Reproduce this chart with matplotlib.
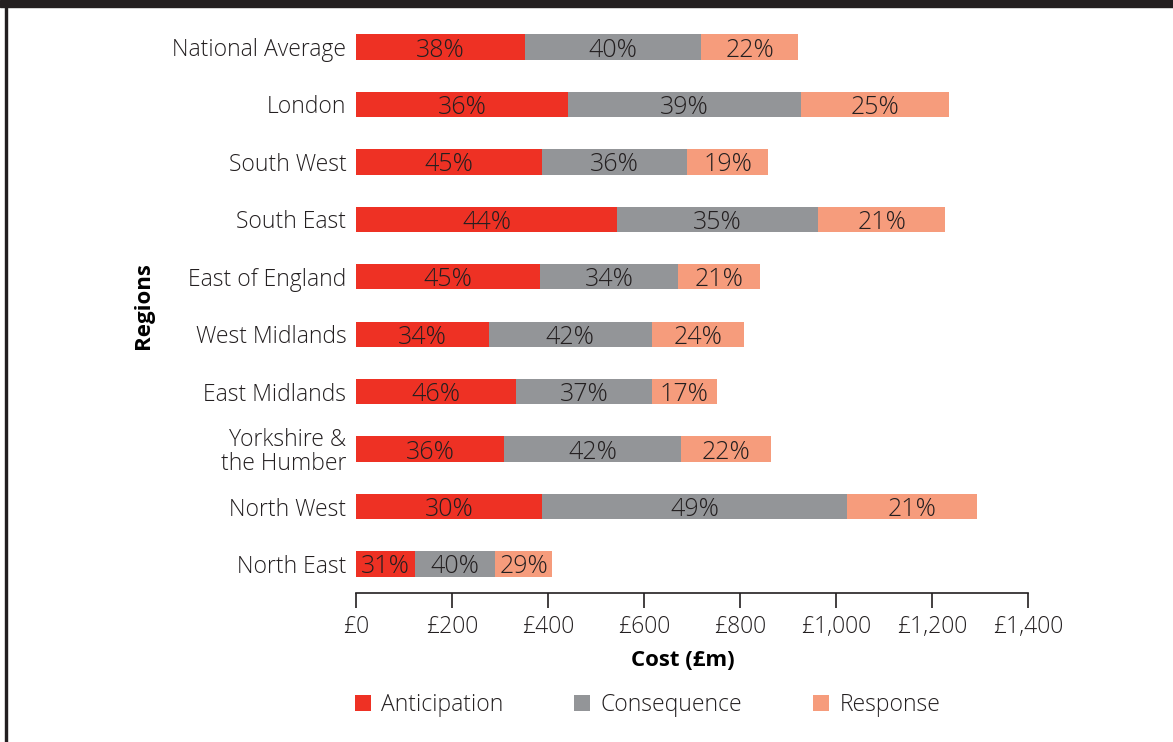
import matplotlib
matplotlib.use('Agg')
import matplotlib.pyplot as plt
from matplotlib.patches import Rectangle
import numpy as np

regions = ["National Average", "London", "South West", "South East", "East of England",
           "West Midlands", "East Midlands", "Yorkshire &\nthe Humber", "North West", "North East"]
anticipation = [352, 441, 388, 544, 383, 277, 333, 308, 388, 123]
consequence = [367, 486, 302, 419, 288, 339, 283, 369, 635, 167]
response = [202, 308, 168, 264, 171, 192, 136, 188, 271, 118]
pct_anticipation = [38, 36, 45, 44, 45, 34, 46, 36, 30, 31]
pct_consequence = [40, 39, 36, 35, 34, 42, 37, 42, 49, 40]
pct_response = [22, 25, 19, 21, 21, 24, 17, 22, 21, 29]
xticks = [0, 200, 400, 600, 800, 1000, 1200, 1400]

RED = "#ee3124"
GREY = "#939598"
PINK = "#f69c7c"
INK = "#231f20"

plt.rcParams['font.family'] = ['Open Sans', 'DejaVu Sans']
plt.rcParams['font.weight'] = 'light'
plt.rcParams['font.size'] = 16.5
plt.rcParams['text.color'] = INK

fig = plt.figure(figsize=(11.73, 7.42), dpi=100)
ax = fig.add_axes([356/1173, 1 - 593/742, 672/1173, (593 - 18.3)/742])

y = np.arange(len(regions))[::-1]
h = 0.44
left = np.zeros(len(regions))
for vals, pcts, col, name in [(anticipation, pct_anticipation, RED, "Anticipation"),
                              (consequence, pct_consequence, GREY, "Consequence"),
                              (response, pct_response, PINK, "Response")]:
    bars = ax.barh(y, vals, left=left, height=h, color=col, label=name)
    for b, p in zip(bars, pcts):
        ax.text(b.get_x() + b.get_width()/2, b.get_y() + b.get_height()/2, f"{p}%",
                ha='center', va='center_baseline', fontsize=18, color=INK)
    left = left + np.array(vals)

ax.set_xlim(0, 1400)
ax.set_ylim(-0.505, 9.5)
ax.set_yticks(y)
ax.set_yticklabels(regions, linespacing=1.0)
ax.set_xticks(xticks)
ax.set_xticklabels([f"£{v:,}" for v in xticks])
ax.tick_params(axis='y', length=0, pad=7, labelsize=16.5, labelcolor=INK)
ax.tick_params(axis='x', length=11, width=1.2, color=INK, pad=5, labelsize=16.5, labelcolor=INK)
for s in ['top', 'right', 'left']:
    ax.spines[s].set_visible(False)
ax.spines['bottom'].set_color(INK)
ax.spines['bottom'].set_linewidth(1.2)

ax.set_xlabel("Cost (£m)", fontweight='bold', fontsize=16)
ax.set_ylabel("Regions", fontweight='bold', fontsize=16)
ax.xaxis.set_label_coords(0.487, -0.1)
ax.yaxis.set_label_coords(-0.30, 0.5)

fig.legend(loc='center left', bbox_to_anchor=(334/1173, 1 - 705/742), ncol=3, frameon=False,
           handlelength=0.7, handleheight=0.7, handletextpad=0.45, columnspacing=3.1, fontsize=16.5)

# frame: dark band on top and thin line on the left
fig.patches.append(Rectangle((0, 1 - 7/742), 1, 7/742, transform=fig.transFigure,
                             color=INK, zorder=0))
fig.patches.append(Rectangle((5/1173, 0), 2/1173, 1, transform=fig.transFigure,
                             color=INK, zorder=0))

fig.savefig("out.png", dpi=100)
